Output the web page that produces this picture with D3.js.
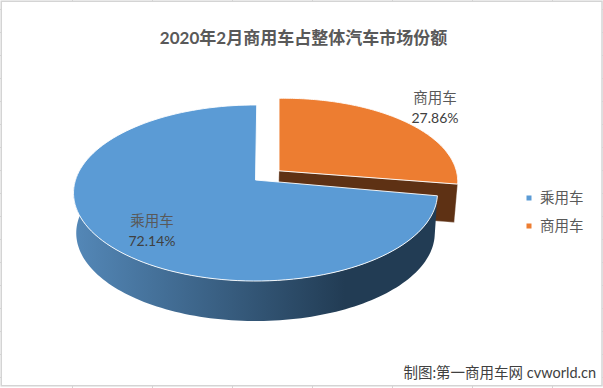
<!doctype html>
<html lang="en">

<head>
  <meta charset="utf-8">
  <script src="https://d3js.org/d3.v7.min.js"></script>
  <title>2020年2月商用车占整体汽车市场份额</title>
  <style type="text/css">
    html,
    body {
      width: 100%;
      height: 100%;
      padding: 0;
      margin: 0;
      background: #fff;
    }

    svg {
      display: block;
    }

    text {
      font-family: Lato, "Noto Sans CJK SC", sans-serif;
    }
  </style>
</head>

<body>
  <script>
    var title = "2020年2月商用车占整体汽车市场份额";
    var credit = "制图:第一商用车网 cvworld.cn";
    var categories = ["商用车", "乘用车"];
    var shares = [27.86, 72.14];
    var legendOrder = ["乘用车", "商用车"];

    var width = 603, height = 388;

    var colors = d3.scaleOrdinal()
      .domain(categories)
      .range(["#ed7d31", "#5b9bd5"]);

    var svg = d3.select("body").append("svg")
      .attr("width", width)
      .attr("height", height);

    // sheet gridline stubs showing round the chart frame
    var frame = svg.append("g").attr("stroke", "#d4d4d4").attr("fill", "none");
    d3.range(72.5, width, 80).forEach(function(x) {
      frame.append("line").attr("x1", x).attr("x2", x).attr("y1", 0).attr("y2", 2);
      frame.append("line").attr("x1", x).attr("x2", x).attr("y1", 385).attr("y2", 388);
    });
    d3.range(9.5, height - 5, 23).forEach(function(y) {
      frame.append("line").attr("x1", 0).attr("x2", 2).attr("y1", y).attr("y2", y);
      frame.append("line").attr("x1", 601).attr("x2", 603).attr("y1", y).attr("y2", y);
    });
    frame.append("rect")
      .attr("x", 1.25).attr("y", 1.25)
      .attr("width", 600.75).attr("height", 384.5)
      .attr("fill", "#fff")
      .attr("stroke-width", 1.5);

    svg.append("text")
      .attr("x", 303.5)
      .attr("y", 44)
      .attr("text-anchor", "middle")
      .attr("font-size", 17)
      .attr("font-weight", "bold")
      .attr("fill", "#595959")
      .text(title);

    // tilted disc with perspective: u,v are on the unit disc, v towards the viewer
    var cx = 255.5, tipY = 180, rx = 180, ry = 86.1, persp = 0.1477;

    function project(angle, r, drop, shrink) {
      var u = r * Math.sin(angle), v = -r * Math.cos(angle);
      var w = 1 - persp * v;
      return [cx + shrink * rx * u / w, tipY + ry * v / w + drop];
    }

    var pie = d3.pie().sort(null).value(function(d) { return d.share; });
    var slices = pie(categories.map(function(c, i) {
      return { name: c, share: shares[i] };
    }));
    var orange = slices[0], blue = slices[1];

    var line = d3.line();

    function arcPoints(a0, a1, drop, shrink) {
      return d3.range(0, 121).map(function(i) {
        return project(a0 + (a1 - a0) * i / 120, 1, drop, shrink);
      });
    }

    // the exploded slice sits up and right of the rest of the pie
    function explode(p) {
      var dx = p[0] - cx, dy = p[1] - tipY;
      return [279 + 0.982 * dx, 170.8 - 0.0109 * dx + 0.967 * dy];
    }

    var orangeTop = [[cx, tipY]].concat(arcPoints(orange.startAngle, orange.endAngle, 0, 1)).map(explode);
    var corner = orangeTop[orangeTop.length - 1];

    // orange wall, mostly hidden behind the blue slice
    svg.append("path")
      .attr("d", line([
        orangeTop[0], corner,
        [corner[0] - 3.4, corner[1] + 38.3],
        [orangeTop[0][0] - 1, orangeTop[0][1] + 38]
      ]) + "Z")
      .attr("fill", "#5e3114")
      .attr("stroke", "#fff")
      .attr("stroke-opacity", 0.5)
      .attr("stroke-width", 0.6);

    svg.append("path")
      .attr("d", line(orangeTop) + "Z")
      .attr("fill", colors(orange.data.name))
      .attr("stroke", "#fff")
      .attr("stroke-width", 0.9);

    // blue wall
    var defs = svg.append("defs");
    var grad = defs.append("linearGradient")
      .attr("id", "wall")
      .attr("gradientUnits", "userSpaceOnUse")
      .attr("x1", 73).attr("x2", 345)
      .attr("y1", 0).attr("y2", 0);
    grad.append("stop").attr("offset", 0).attr("stop-color", "#5488b8");
    grad.append("stop").attr("offset", 1).attr("stop-color", "#223c54");

    var wallEnd = 1.55 * Math.PI;
    var wallTop = arcPoints(blue.startAngle, wallEnd, 0, 1);
    var wallBottom = arcPoints(blue.startAngle, wallEnd, 40, 0.985);
    svg.append("path")
      .attr("d", line(wallTop.concat(wallBottom.reverse())) + "Z")
      .attr("fill", "url(#wall)");

    // top edge leans a hair past twelve o'clock in the original
    var blueTop = [[cx, tipY]].concat(arcPoints(blue.startAngle, blue.endAngle + 0.0077, 0, 1));
    svg.append("path")
      .attr("d", line(blueTop) + "Z")
      .attr("fill", colors(blue.data.name))
      .attr("stroke", "#fff")
      .attr("stroke-width", 0.9);

    // data labels
    var labelPos = { "商用车": [435, 103, 123], "乘用车": [152, 226, 246] };
    slices.forEach(function(s) {
      var pos = labelPos[s.data.name];
      svg.append("text")
        .attr("x", pos[0]).attr("y", pos[1])
        .attr("text-anchor", "middle")
        .attr("font-size", 14.5)
        .attr("fill", "#595959")
        .text(s.data.name);
      svg.append("text")
        .attr("x", pos[0]).attr("y", pos[2])
        .attr("text-anchor", "middle")
        .attr("font-size", 14)
        .attr("fill", "#404040")
        .text(d3.format(".2f")(s.data.share) + "%");
    });

    // legend
    var legend = svg.selectAll(".legend")
      .data(legendOrder)
      .enter().append("g")
      .attr("class", "legend")
      .attr("transform", function(d, i) {
        return "translate(529," + (198 + i * 28) + ")";
      });
    legend.append("rect")
      .attr("x", -2.5).attr("y", -2.5)
      .attr("width", 5).attr("height", 5)
      .attr("fill", function(d) { return colors(d); });
    legend.append("text")
      .attr("x", 11)
      .attr("y", 5)
      .attr("font-size", 14.5)
      .attr("fill", "#595959")
      .text(function(d) { return d; });

    svg.append("text")
      .attr("x", 596)
      .attr("y", 378)
      .attr("text-anchor", "end")
      .attr("font-size", 14.5)
      .attr("fill", "#404040")
      .text(credit);
  </script>
</body>

</html>
